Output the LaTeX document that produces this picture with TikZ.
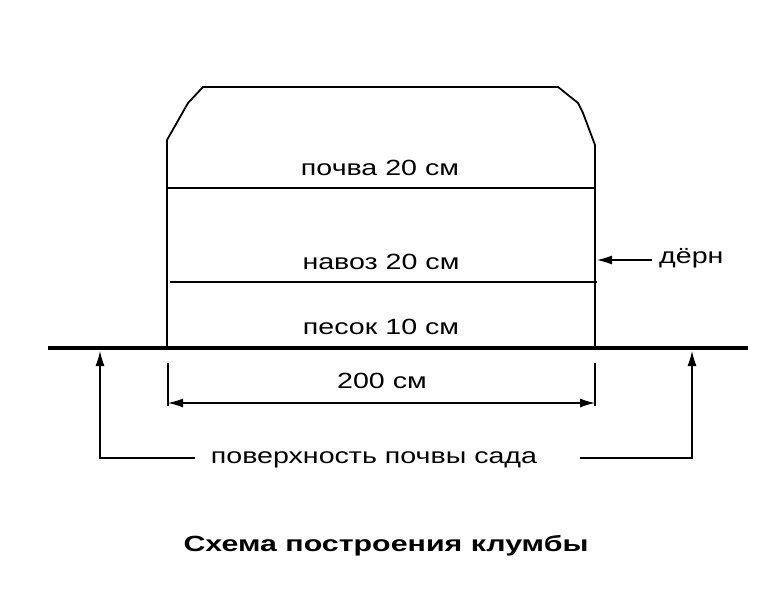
\documentclass[tikz,border=0pt]{standalone}
\usepackage{fontspec}
\setmainfont{Liberation Sans}
\usetikzlibrary{arrows.meta}
\newcommand{\wide}[1]{\scalebox{1.3}[1]{#1}}
\begin{document}
\begin{tikzpicture}[x=1pt,y=-1pt,
  outline/.style={line width=1.8pt,line join=round},
  ground/.style={line width=4.5pt},
  thin/.style={line width=1.2pt},
  tip/.tip={Latex[length=15pt,width=9pt]},
  arr/.style={thin,-tip},
  lbl/.style={font=\fontsize{22}{24}\selectfont,inner sep=0pt},
  ttl/.style={font=\fontsize{22}{24}\selectfont\bfseries,inner sep=0pt}]
\useasboundingbox (0,0) rectangle (784,600);
% bed outline
\coordinate (bl) at (167,348);
\coordinate (br) at (595,348);
\draw[outline] (bl) -- (167,140) -- (188,103) -- (203,87) -- (558,87) -- (578,103) -- (583,113) -- (595,145) -- (br);
\draw[outline] (167,188) -- (595,188);
\draw[outline] (170,282) -- (597,282);
% ground
\draw[ground] (48,348) -- (748,348);
% labels
\node[lbl] (soil) at (380,168) {\wide{почва 20 см}};
\node[lbl] (manure) at (381,262) {\wide{навоз 20 см}};
\node[lbl] (sand) at (381,327) {\wide{песок 10 см}};
\node[lbl,anchor=west] (turf) at (659,258) {\wide{дёрн}};
\coordinate (turfstart) at (652,260);
\coordinate (turfend) at (597,260);
\draw[arr] (turfstart) -- (turfend);
% dimension
\coordinate (dl1) at (168,363);
\coordinate (dl2) at (168,406);
\coordinate (dr1) at (595,363);
\coordinate (dr2) at (595,406);
\draw[thin] (dl1) -- (dl2);
\draw[thin] (dr1) -- (dr2);
\node[lbl] (width) at (382,381) {\wide{200 см}};
\draw[thin,tip-tip] (168,403) -- (595,403);
% surface
\node[lbl] (surf) at (374,460) {\wide{поверхность почвы сада}};
\coordinate (sl) at (100,458);
\coordinate (sr) at (692,458);
\draw[arr] (195,458) -- (sl) -- (100,351);
\draw[arr] (580,458) -- (sr) -- (692,351);
% title
\node[ttl] (title) at (386,546) {\scalebox{1.38}[1]{Схема построения клумбы}};
\end{tikzpicture}
\end{document}
